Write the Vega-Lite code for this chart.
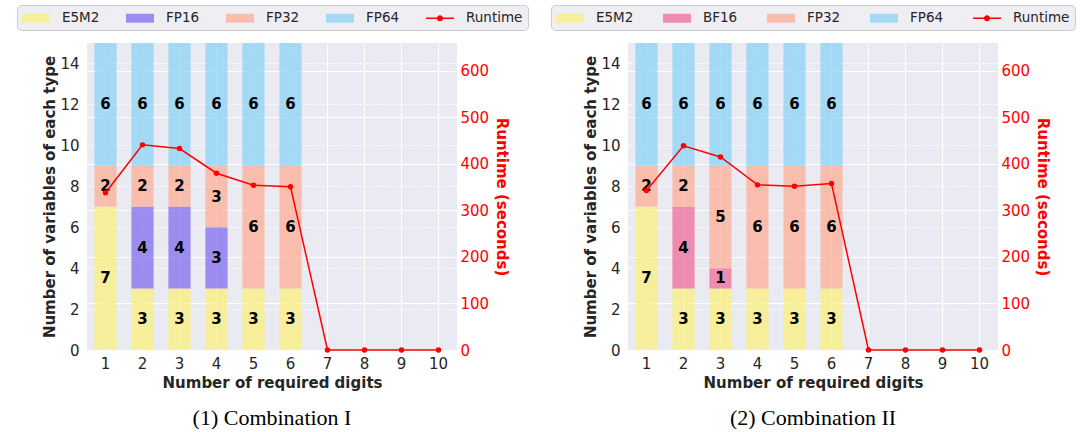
{
  "$schema": "https://vega.github.io/schema/vega-lite/v6.json",
  "padding": {"top": 4, "left": 16, "right": 0, "bottom": 0},
  "background": "white",
  "datasets": {
    "bars1": [
      {"digit": 1, "type": "E5M2", "bits": 8, "count": 7},
      {"digit": 1, "type": "FP32", "bits": 32, "count": 2},
      {"digit": 1, "type": "FP64", "bits": 64, "count": 6},
      {"digit": 2, "type": "E5M2", "bits": 8, "count": 3},
      {"digit": 2, "type": "FP16", "bits": 16, "count": 4},
      {"digit": 2, "type": "FP32", "bits": 32, "count": 2},
      {"digit": 2, "type": "FP64", "bits": 64, "count": 6},
      {"digit": 3, "type": "E5M2", "bits": 8, "count": 3},
      {"digit": 3, "type": "FP16", "bits": 16, "count": 4},
      {"digit": 3, "type": "FP32", "bits": 32, "count": 2},
      {"digit": 3, "type": "FP64", "bits": 64, "count": 6},
      {"digit": 4, "type": "E5M2", "bits": 8, "count": 3},
      {"digit": 4, "type": "FP16", "bits": 16, "count": 3},
      {"digit": 4, "type": "FP32", "bits": 32, "count": 3},
      {"digit": 4, "type": "FP64", "bits": 64, "count": 6},
      {"digit": 5, "type": "E5M2", "bits": 8, "count": 3},
      {"digit": 5, "type": "FP32", "bits": 32, "count": 6},
      {"digit": 5, "type": "FP64", "bits": 64, "count": 6},
      {"digit": 6, "type": "E5M2", "bits": 8, "count": 3},
      {"digit": 6, "type": "FP32", "bits": 32, "count": 6},
      {"digit": 6, "type": "FP64", "bits": 64, "count": 6}
    ],
    "bars2": [
      {"digit": 1, "type": "E5M2", "bits": 8, "count": 7},
      {"digit": 1, "type": "FP32", "bits": 32, "count": 2},
      {"digit": 1, "type": "FP64", "bits": 64, "count": 6},
      {"digit": 2, "type": "E5M2", "bits": 8, "count": 3},
      {"digit": 2, "type": "BF16", "bits": 16, "count": 4},
      {"digit": 2, "type": "FP32", "bits": 32, "count": 2},
      {"digit": 2, "type": "FP64", "bits": 64, "count": 6},
      {"digit": 3, "type": "E5M2", "bits": 8, "count": 3},
      {"digit": 3, "type": "BF16", "bits": 16, "count": 1},
      {"digit": 3, "type": "FP32", "bits": 32, "count": 5},
      {"digit": 3, "type": "FP64", "bits": 64, "count": 6},
      {"digit": 4, "type": "E5M2", "bits": 8, "count": 3},
      {"digit": 4, "type": "FP32", "bits": 32, "count": 6},
      {"digit": 4, "type": "FP64", "bits": 64, "count": 6},
      {"digit": 5, "type": "E5M2", "bits": 8, "count": 3},
      {"digit": 5, "type": "FP32", "bits": 32, "count": 6},
      {"digit": 5, "type": "FP64", "bits": 64, "count": 6},
      {"digit": 6, "type": "E5M2", "bits": 8, "count": 3},
      {"digit": 6, "type": "FP32", "bits": 32, "count": 6},
      {"digit": 6, "type": "FP64", "bits": 64, "count": 6}
    ],
    "run1": [
      {"digit": 1, "runtime": 338}, {"digit": 2, "runtime": 441}, {"digit": 3, "runtime": 433},
      {"digit": 4, "runtime": 380}, {"digit": 5, "runtime": 354}, {"digit": 6, "runtime": 351},
      {"digit": 7, "runtime": 0}, {"digit": 8, "runtime": 0}, {"digit": 9, "runtime": 0}, {"digit": 10, "runtime": 0}
    ],
    "run2": [
      {"digit": 1, "runtime": 343}, {"digit": 2, "runtime": 439}, {"digit": 3, "runtime": 415},
      {"digit": 4, "runtime": 355}, {"digit": 5, "runtime": 352}, {"digit": 6, "runtime": 358},
      {"digit": 7, "runtime": 0}, {"digit": 8, "runtime": 0}, {"digit": 9, "runtime": 0}, {"digit": 10, "runtime": 0}
    ]
  },
  "config": {
    "font": "DejaVu Sans",
    "view": {"fill": "#eaeaf2", "stroke": null},
    "axis": {
      "labelFont": "DejaVu Sans", "labelFontSize": 15, "labelColor": "#262626",
      "titleFont": "DejaVu Sans", "titleFontSize": 15, "titleFontWeight": "bold", "titleColor": "#262626",
      "domain": false, "ticks": false, "gridColor": "white", "gridWidth": 1, "gridOpacity": 1
    },
    "legend": {
      "layout": {"top": {"anchor": "middle"}},
      "orient": "top", "direction": "horizontal", "columns": 5, "offset": 13,
      "symbolSize": 256, "symbolOffset": 6, "labelOffset": 18, "padding": 5,
      "fillColor": "#eeeef3", "strokeColor": "#cccccc", "cornerRadius": 4,
      "labelFontSize": 13.5, "labelColor": "#262626", "labelFont": "DejaVu Sans",
      "symbolOpacity": 1, "symbolStrokeWidth": 0
    },
    "title": {"font": "Liberation Serif", "fontSize": 22, "fontWeight": "normal", "color": "black", "offset": 18, "anchor": "middle"}
  },
  "spacing": 21,
  "resolve": {"scale": {"color": "independent"}, "legend": {"color": "independent"}},
  "hconcat": [
    {
      "width": 370, "height": 307,
      "title": {"text": "(1) Combination I", "orient": "bottom"},
      "layer": [
        {
          "data": {"name": "bars1"},
          "layer": [
            {
              "mark": {"type": "bar", "opacity": 0.7},
              "encoding": {
                "x": {"field": "digit", "type": "ordinal", "scale": {"domain": [1,2,3,4,5,6,7,8,9,10], "paddingInner": 0.4, "paddingOuter": 0.2},
                      "axis": {"title": "Number of required digits", "labelAngle": 0, "grid": true, "labelPadding": 6, "titlePadding": 4}},
                "y": {"field": "count", "type": "quantitative", "stack": "zero", "scale": {"domain": [0, 15], "nice": false},
                      "axis": {"title": "Number of variables of each type", "orient": "left", "values": [0,2,4,6,8,10,12,14], "grid": true, "gridDash": [4, 2], "gridOpacity": 0.8, "labelPadding": 8, "titlePadding": 2}},
                "order": {"field": "bits", "type": "quantitative"},
                "color": {"field": "type", "type": "nominal",
                  "scale": {"domain": ["E5M2", "FP16", "FP32", "FP64", "Runtime"], "range": ["#fcf077", "#7964ef", "#ffaa91", "#84d2f7", "#ff0000"]},
                  "legend": {"title": null, "columnPadding": 26,
                    "symbolType": "M-1.75,-0.56H1.75V0.56H-1.75Z",
                    "encode": {"symbols": {"update": {
                      "shape": {"signal": "datum.value === 'Runtime' ? 'M-1.75,-0.09H1.75V0.09H-1.75Z M0.38,0A0.38,0.38,0,1,1,-0.38,0A0.38,0.38,0,1,1,0.38,0Z' : 'M-1.75,-0.56H1.75V0.56H-1.75Z'"},
                      "fillOpacity": {"signal": "datum.value === 'Runtime' ? 1 : 0.7"}
                    }}}
                  }}
              }
            },
            {
              "mark": {"type": "text", "fontWeight": "bold", "fontSize": 15, "color": "black", "baseline": "middle", "align": "center"},
              "encoding": {
                "x": {"field": "digit", "type": "ordinal"},
                "y": {"field": "count", "type": "quantitative", "stack": "zero", "bandPosition": 0.5},
                "detail": {"field": "type", "type": "nominal"},
                "order": {"field": "bits", "type": "quantitative"},
                "text": {"field": "count", "type": "quantitative"}
              }
            }
          ]
        },
        {
          "data": {"name": "run1"},
          "mark": {"type": "line", "strokeWidth": 1.5, "point": {"filled": true, "size": 30}},
          "encoding": {
            "x": {"field": "digit", "type": "ordinal"},
            "y": {"field": "runtime", "type": "quantitative", "scale": {"domain": [0, 660], "nice": false},
                  "axis": {"title": "Runtime (seconds)", "orient": "right", "values": [0,100,200,300,400,500,600], "grid": true, "labelColor": "#ff0000", "titleColor": "#ff0000", "labelPadding": 3, "titlePadding": 5}},
            "color": {"datum": "Runtime"}
          }
        }
      ],
      "resolve": {"scale": {"y": "independent"}}
    },
    {
      "width": 370, "height": 307,
      "title": {"text": "(2) Combination II", "orient": "bottom"},
      "layer": [
        {
          "data": {"name": "bars2"},
          "layer": [
            {
              "mark": {"type": "bar", "opacity": 0.7},
              "encoding": {
                "x": {"field": "digit", "type": "ordinal", "scale": {"domain": [1,2,3,4,5,6,7,8,9,10], "paddingInner": 0.4, "paddingOuter": 0.2},
                      "axis": {"title": "Number of required digits", "labelAngle": 0, "grid": true, "labelPadding": 6, "titlePadding": 4}},
                "y": {"field": "count", "type": "quantitative", "stack": "zero", "scale": {"domain": [0, 15], "nice": false},
                      "axis": {"title": "Number of variables of each type", "orient": "left", "values": [0,2,4,6,8,10,12,14], "grid": true, "gridDash": [4, 2], "gridOpacity": 0.8, "labelPadding": 8, "titlePadding": 2}},
                "order": {"field": "bits", "type": "quantitative"},
                "color": {"field": "type", "type": "nominal",
                  "scale": {"domain": ["E5M2", "BF16", "FP32", "FP64", "Runtime"], "range": ["#fcf077", "#f16295", "#ffaa91", "#84d2f7", "#ff0000"]},
                  "legend": {"title": null, "columnPadding": 29,
                    "symbolType": "M-1.75,-0.56H1.75V0.56H-1.75Z",
                    "encode": {"symbols": {"update": {
                      "shape": {"signal": "datum.value === 'Runtime' ? 'M-1.75,-0.09H1.75V0.09H-1.75Z M0.38,0A0.38,0.38,0,1,1,-0.38,0A0.38,0.38,0,1,1,0.38,0Z' : 'M-1.75,-0.56H1.75V0.56H-1.75Z'"},
                      "fillOpacity": {"signal": "datum.value === 'Runtime' ? 1 : 0.7"}
                    }}}
                  }}
              }
            },
            {
              "mark": {"type": "text", "fontWeight": "bold", "fontSize": 15, "color": "black", "baseline": "middle", "align": "center"},
              "encoding": {
                "x": {"field": "digit", "type": "ordinal"},
                "y": {"field": "count", "type": "quantitative", "stack": "zero", "bandPosition": 0.5},
                "detail": {"field": "type", "type": "nominal"},
                "order": {"field": "bits", "type": "quantitative"},
                "text": {"field": "count", "type": "quantitative"}
              }
            }
          ]
        },
        {
          "data": {"name": "run2"},
          "mark": {"type": "line", "strokeWidth": 1.5, "point": {"filled": true, "size": 30}},
          "encoding": {
            "x": {"field": "digit", "type": "ordinal"},
            "y": {"field": "runtime", "type": "quantitative", "scale": {"domain": [0, 660], "nice": false},
                  "axis": {"title": "Runtime (seconds)", "orient": "right", "values": [0,100,200,300,400,500,600], "grid": true, "labelColor": "#ff0000", "titleColor": "#ff0000", "labelPadding": 3, "titlePadding": 5}},
            "color": {"datum": "Runtime"}
          }
        }
      ],
      "resolve": {"scale": {"y": "independent"}}
    }
  ]
}
